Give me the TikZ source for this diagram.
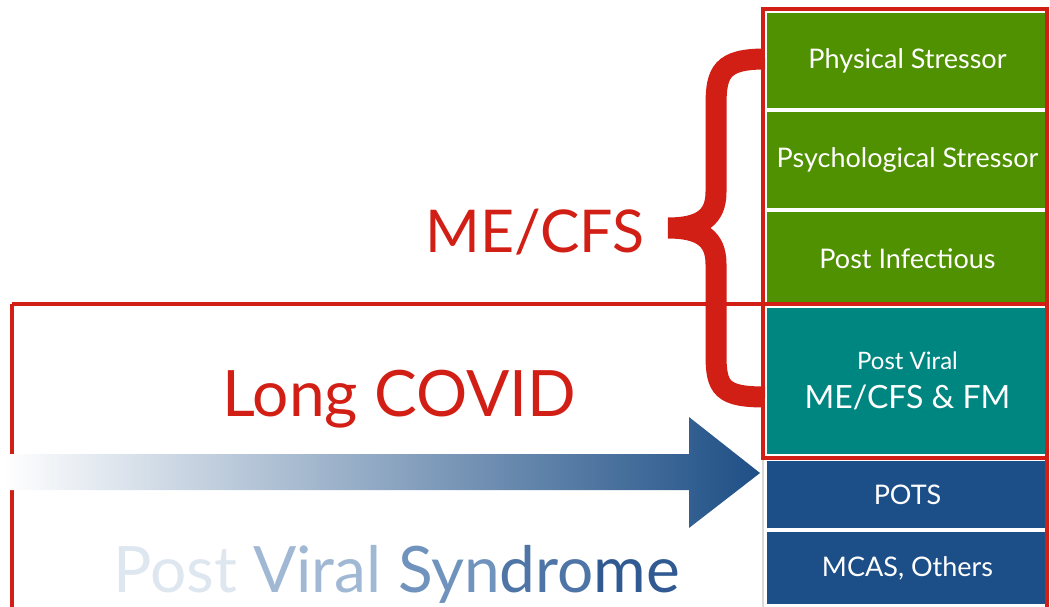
\documentclass[tikz,border=0pt]{standalone}
\usepackage{fontspec}
\setmainfont{Lato}
\usetikzlibrary{positioning}

\definecolor{mered}{RGB}{210,31,22}
\definecolor{stressgreen}{RGB}{79,145,0}
\definecolor{viralteal}{RGB}{0,134,129}
\definecolor{potsblue}{RGB}{28,78,136}
\definecolor{arrowblue}{RGB}{30,79,134}
\definecolor{arrowmid}{RGB}{142,169,195}
\definecolor{pvsa}{RGB}{222,230,239}
\definecolor{pvsb}{RGB}{160,184,212}
\definecolor{pvsc}{RGB}{112,147,190}
\definecolor{pvsd}{RGB}{78,117,166}
\definecolor{pvse}{RGB}{48,90,145}

\tikzset{
  box/.style={rectangle, draw=white, line width=2pt, minimum width=283pt,
    inner sep=0pt, text=white, align=center},
  boxtext/.style={font=\fontsize{27}{30}\selectfont},
  label/.style={inner sep=0pt, anchor=base west},
  frame/.style={draw=mered, line width=3.5pt},
}

\begin{document}
\begin{tikzpicture}[x=1pt,y=-1pt]
  \useasboundingbox (0,0) rectangle (1050,607);
  % column of boxes
  \draw [gray!30, line width=2pt] (763,8) -- (763,607);
  \node [box, boxtext, fill=stressgreen, minimum height=97pt] (phys) at (907.5,60.5) {Physical Stressor};
  \node [box, boxtext, fill=stressgreen, minimum height=98pt] (psych) at (907.5,160) {Psychological Stressor};
  \node [box, boxtext, fill=stressgreen, minimum height=96pt] (infect) at (907.5,258.5) {Post Infectious};
  \node [box, fill=viralteal, minimum height=148pt, font=\fontsize{32}{39}\selectfont] (viral) at (907.5,381)
    {{\fontsize{24}{39}\selectfont Post Viral}\\ME/CFS \& FM};
  \node [box, boxtext, fill=potsblue, minimum height=69pt] (pots) at (907.5,494.5) {POTS};
  \node [box, boxtext, fill=potsblue, minimum height=74pt] (mcas) at (907.5,568) {MCAS, Others};
  % frames
  \draw [frame] (763,9) rectangle (1047,458);
  \draw [frame] (12,304) -- (1047,304) -- (1047,620);
  \draw [frame] (12,620) -- (12,304);
  % brace
  \draw [mered, line width=21pt] (phys.west |- 0,59) .. controls (722,59) and (716,72) .. (716,105) %
    -- (716,192) .. controls (716,218) and (700,228) .. (668,228) %
    .. controls (700,228) and (716,238) .. (716,264) -- (716,355) %
    .. controls (716,388) and (722,397) .. (viral.west |- 0,397);
  % arrow
  \shade [left color=white, middle color=arrowmid, right color=arrowblue] %
    (3,454) -- (689,454) -- (689,417) -- (760,473) -- (689,528) -- (689,490) -- (3,490) -- cycle;
  % labels
  \node [label, text=mered, font=\fontsize{59}{70}\selectfont] (mecfs) at (425,252) {ME/CFS};
  \node [label, text=mered, font=\fontsize{64}{70}\selectfont] (longcovid) at (222,416) {Long COVID};
  \node [label, font=\fontsize{64}{70}\selectfont] (pvs) at (113,592)
    {\textcolor{pvsa}{Post} \textcolor{pvsb}{Viral} \textcolor{pvsc}{Syn}\textcolor{pvsd}{dro}\textcolor{pvse}{me}};
\end{tikzpicture}
\end{document}
